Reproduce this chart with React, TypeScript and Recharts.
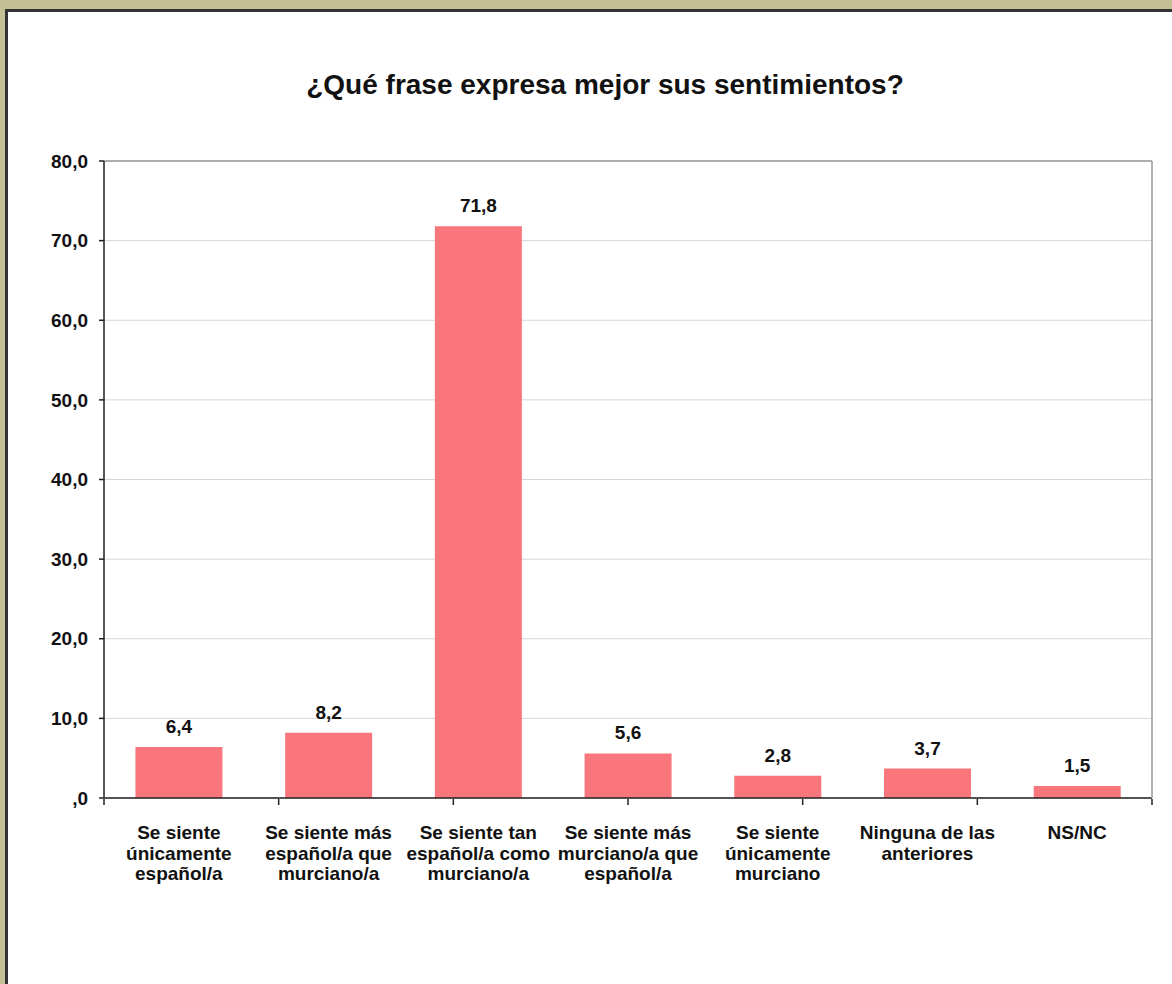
import React from "react";
import {
  BarChart, Bar, XAxis, YAxis, CartesianGrid, LabelList, ReferenceLine,
} from "recharts";

// categories with manual line breaks, as in the original chart
const categories = [
  "Se siente\núnicamente\nespañol/a",
  "Se siente más\nespañol/a que\nmurciano/a",
  "Se siente tan\nespañol/a como\nmurciano/a",
  "Se siente más\nmurciano/a que\nespañol/a",
  "Se siente\núnicamente\nmurciano",
  "Ninguna de las\nanteriores",
  "NS/NC",
];
const values = [6.4, 8.2, 71.8, 5.6, 2.8, 3.7, 1.5];
const yTicks = [0, 10, 20, 30, 40, 50, 60, 70, 80];
const boundaryTicks = [0, 1, 2, 3, 4, 5, 6, 7];

const title = "¿Qué frase expresa mejor sus sentimientos?";

const data = categories.map((name, i) => ({ name, value: values[i] }));

const FONT = '"Liberation Sans", Arial, sans-serif';
const BAR = "#F9767D";

const fmt = (v: number) => (v === 0 ? ",0" : v.toFixed(1).replace(".", ","));

function CategoryTick({ x, y, payload }: any) {
  const lines = String(payload.value).split("\n");
  return (
    <text x={x} y={y} textAnchor="middle" fontSize={19} fontWeight={700} fill="#111" fontFamily={FONT}>
      {lines.map((l, i) => (
        <tspan key={i} x={x} dy={i === 0 ? 41 : 20.5}>{l}</tspan>
      ))}
    </text>
  );
}

// boundary axis only shows its tick marks
const EmptyTick = () => <g />;

export default function App() {
  return (
    <div style={{ position: "absolute", left: 0, top: 0, width: 1172, height: 984, background: "#C5BF96", overflow: "hidden", fontFamily: FONT }}>
      <div style={{ position: "absolute", left: 5, top: 9, width: 1200, height: 1000, background: "#fff", border: "3px solid #333", boxSizing: "border-box" }} />
      <div style={{ position: "absolute", left: 0, top: 71, width: 1210, textAlign: "center", fontSize: 28, lineHeight: "28px", fontWeight: 700, color: "#111" }}>
        {title}
      </div>
      <div style={{ position: "absolute", left: 0, top: 0 }}>
        <BarChart
          width={1172}
          height={984}
          data={data}
          margin={{ top: 161, right: 19, bottom: 184, left: 0 }}
          barCategoryGap="21%"
        >
          <CartesianGrid horizontal vertical={false} stroke="#d6d6d6" yAxisId="l" xAxisId="cat" />
          <XAxis
            xAxisId="cat"
            dataKey="name"
            height={1}
            interval={0}
            tick={<CategoryTick />}
            tickLine={false}
            tickSize={0}
            tickMargin={0}
            axisLine={{ stroke: "#222", strokeWidth: 1.5 }}
          />
          <XAxis
            xAxisId="edges"
            type="number"
            domain={[0, 7]}
            allowDataOverflow
            ticks={boundaryTicks}
            interval={0}
            height={1}
            tick={EmptyTick}
            tickSize={6}
            tickLine={{ stroke: "#222", strokeWidth: 1.5 }}
            axisLine={false}
          />
          <YAxis
            yAxisId="l"
            width={104}
            domain={[0, 80]}
            ticks={yTicks}
            interval={0}
            tickFormatter={fmt}
            tickSize={5}
            tickMargin={11}
            tick={{ fill: "#111", fontSize: 19, fontWeight: 700, fontFamily: FONT }}
            tickLine={{ stroke: "#222", strokeWidth: 1.5 }}
            axisLine={{ stroke: "#222", strokeWidth: 1.5 }}
          />
          <YAxis
            yAxisId="r"
            orientation="right"
            width={1}
            domain={[0, 80]}
            allowDataOverflow
            tick={false}
            tickLine={false}
            axisLine={{ stroke: "#999", strokeWidth: 1.5 }}
          />
          <ReferenceLine y={80} yAxisId="l" xAxisId="cat" stroke="#999" strokeWidth={1.5} />
          <Bar dataKey="value" xAxisId="cat" yAxisId="l" fill={BAR} isAnimationActive={false}>
            <LabelList
              dataKey="value"
              position="top"
              offset={14}
              formatter={(v: any) => fmt(Number(v))}
              fill="#111"
              fontSize={19}
              fontWeight={700}
              fontFamily={FONT}
            />
          </Bar>
        </BarChart>
      </div>
    </div>
  );
}
